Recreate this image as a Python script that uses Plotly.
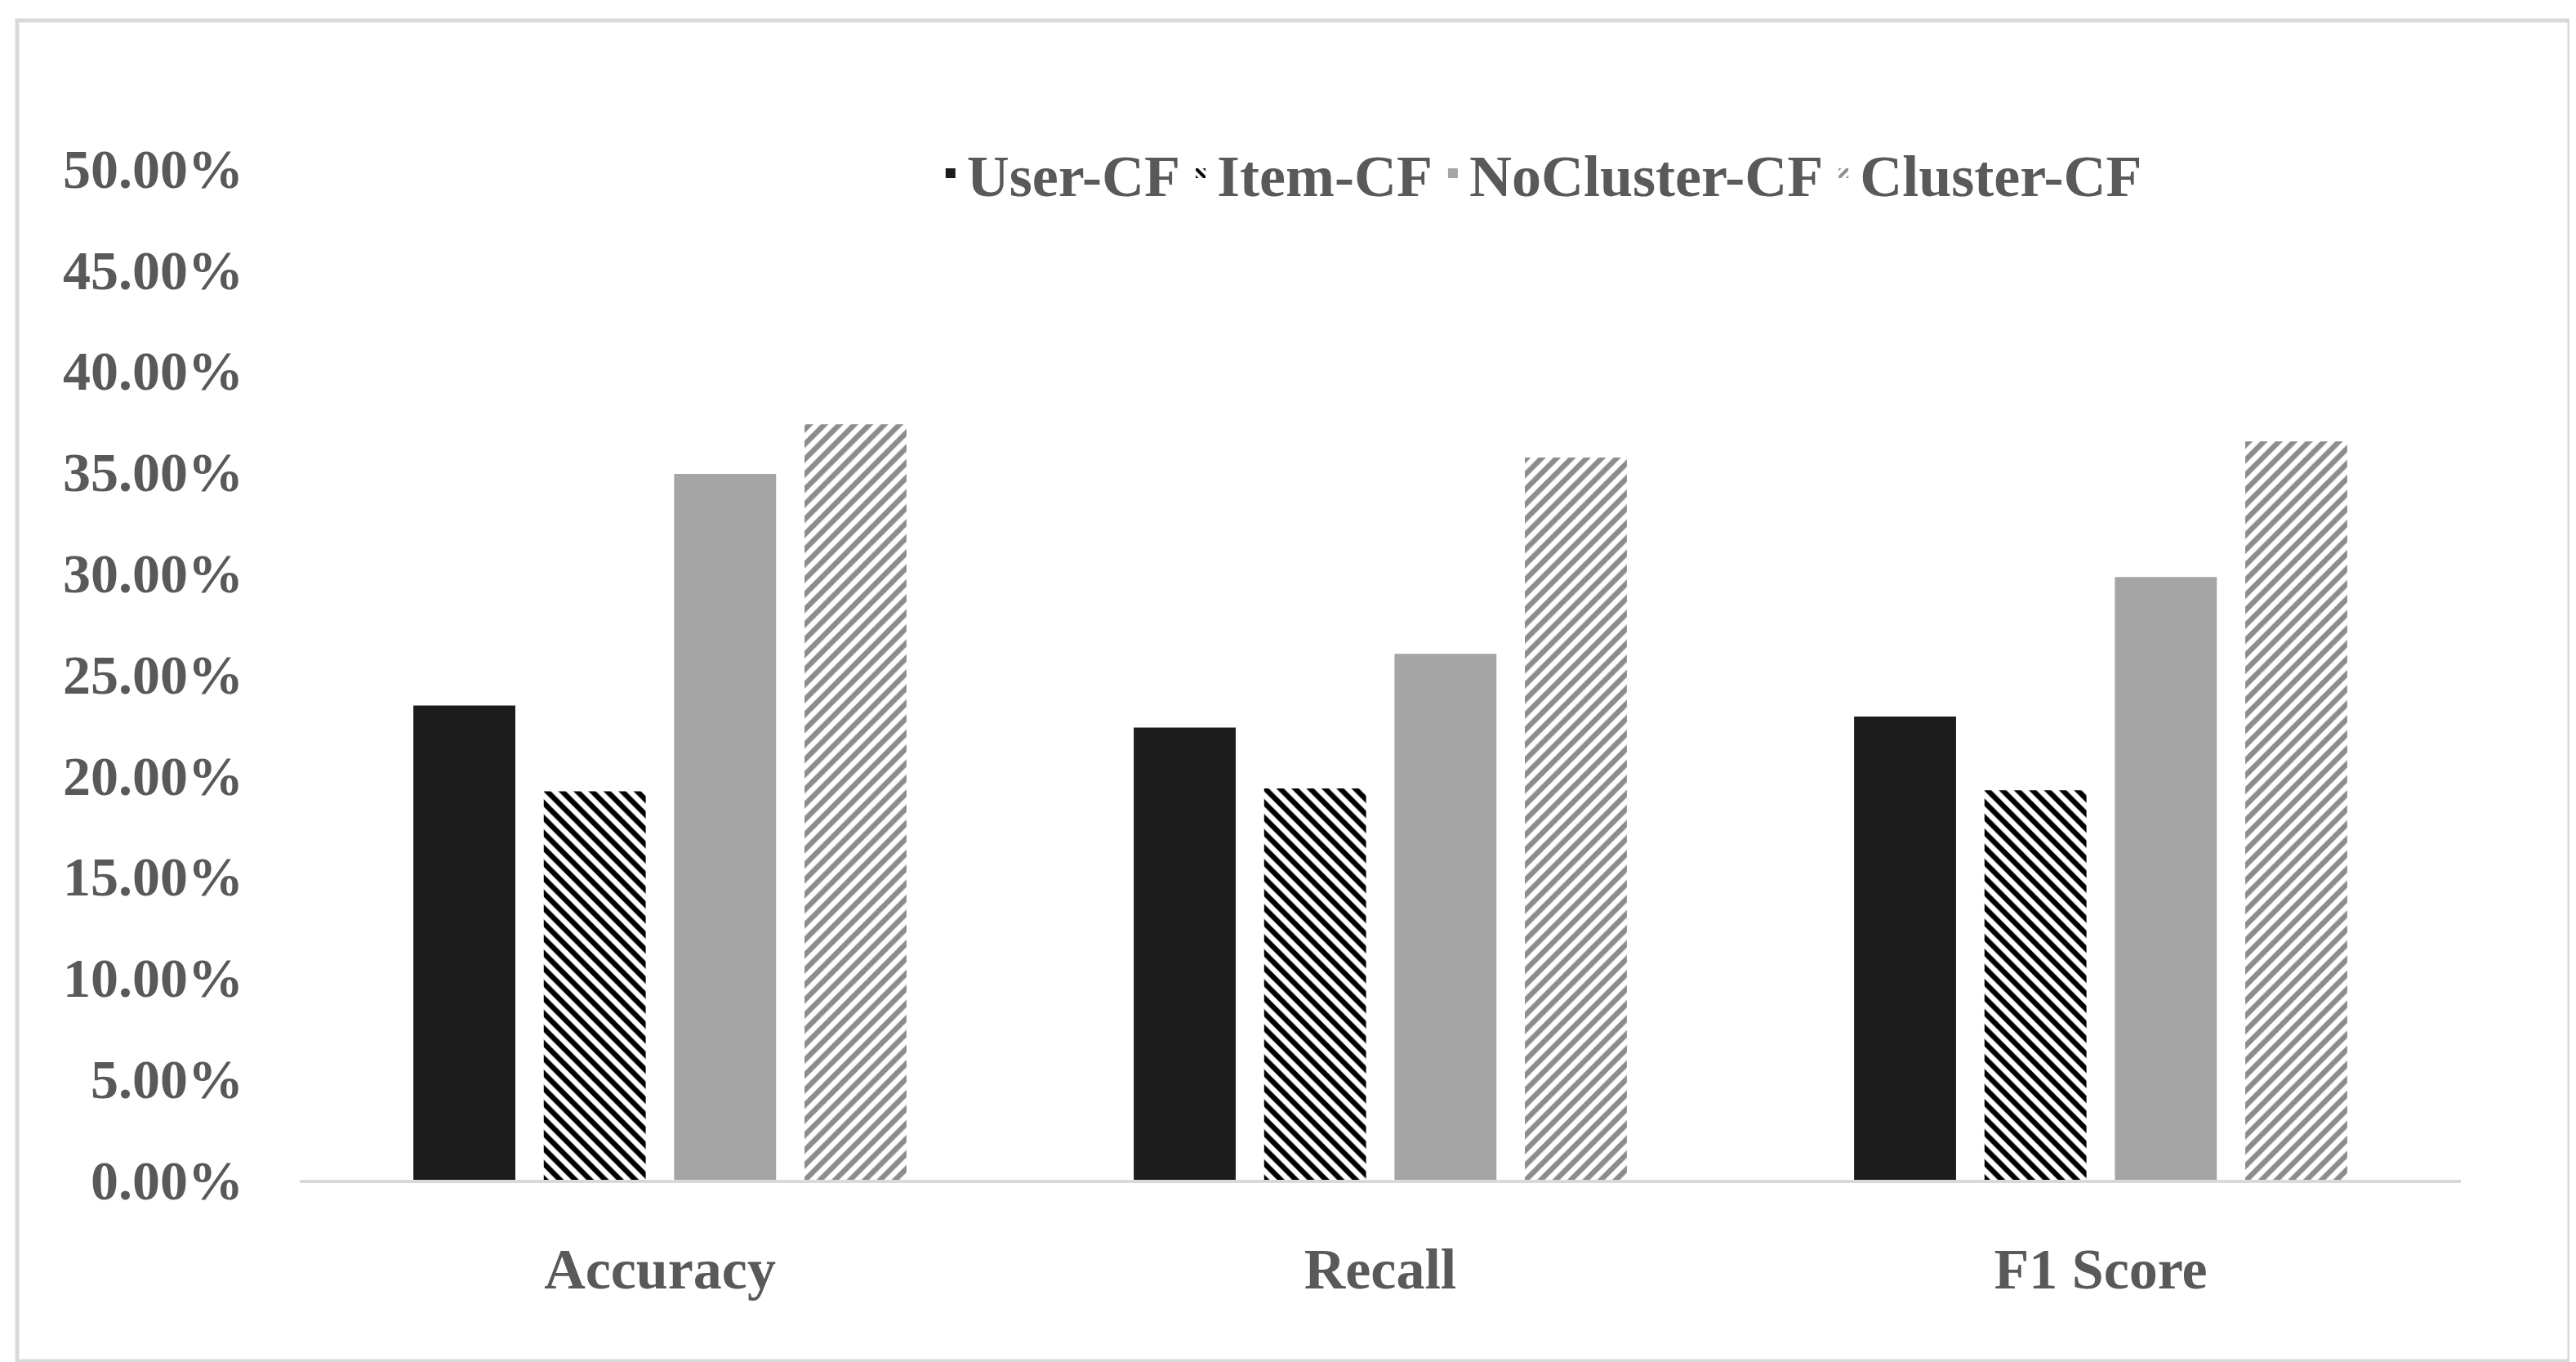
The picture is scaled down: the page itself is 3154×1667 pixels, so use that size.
import plotly.graph_objs as go

categories = ["Accuracy", "Recall", "F1 Score"]
series_names = ["User-CF", "Item-CF", "NoCluster-CF", "Cluster-CF"]
user_cf = [0.2345, 0.2235, 0.2290]
item_cf = [0.1920, 0.1935, 0.1925]
nocluster_cf = [0.3490, 0.2600, 0.2980]
cluster_cf = [0.3735, 0.3570, 0.3650]
y_ticks = [0.0, 0.05, 0.10, 0.15, 0.20, 0.25, 0.30, 0.35, 0.40, 0.45, 0.50]

W, H = 3154, 1667
ml, mr, mt, mb = 359, 149, 198, 231
pw, ph = W - ml - mr, H - mt - mb

font_family = "Liberation Serif"
text_color = "#595959"

styles = [
    dict(color="#1c1c1c"),
    dict(color="white", pattern=dict(shape="\\", fgcolor="black", bgcolor="white",
                                     size=13, solidity=0.5, fillmode="replace")),
    dict(color="#a5a5a5"),
    dict(color="white", pattern=dict(shape="/", fgcolor="#8c8c8c", bgcolor="white",
                                     size=13, solidity=0.5, fillmode="replace")),
]

fig = go.Figure()
for name, vals, st in zip(series_names, [user_cf, item_cf, nocluster_cf, cluster_cf], styles):
    fig.add_trace(go.Bar(x=categories, y=vals, name=name,
                         marker=dict(line=dict(width=0), **st)))

# outer light-grey frame around the whole chart
bx0, bx1 = 13, 3138
by0, by1 = 17, 1658
fig.add_shape(type="rect", xref="paper", yref="paper",
              x0=(bx0 - ml) / pw, x1=(bx1 - ml) / pw,
              y0=(H - mb - by1) / ph, y1=(H - mb - by0) / ph,
              line=dict(color="#d9d9d9", width=5), fillcolor="rgba(0,0,0,0)", layer="below")

fig.update_layout(
    width=W, height=H,
    margin=dict(l=ml, r=mr, t=mt, b=mb),
    paper_bgcolor="white", plot_bgcolor="white",
    barmode="group", bargap=0.276, bargroupgap=0.218,
    font=dict(family=font_family, size=68, color=text_color),
    legend=dict(orientation="h", x=0.574, y=0.995, xanchor="center", yanchor="middle",
                font=dict(family=font_family, size=72, color=text_color, weight="bold"),
                bgcolor="rgba(0,0,0,0)", itemwidth=30, traceorder="normal"),
    showlegend=True,
)
fig.update_xaxes(showline=True, linecolor="#d9d9d9", linewidth=4, ticks="",
                 showgrid=False, zeroline=False, ticklabelstandoff=45,
                 tickfont=dict(family=font_family, size=70, color=text_color, weight="bold"))
fig.update_yaxes(range=[0, 0.5], tickvals=y_ticks, tickformat=".2%", showline=False,
                 showgrid=False, zeroline=False, ticks="", ticklabelstandoff=68,
                 tickfont=dict(family=font_family, size=68, color=text_color, weight="bold"))

fig.write_html("out.html")
